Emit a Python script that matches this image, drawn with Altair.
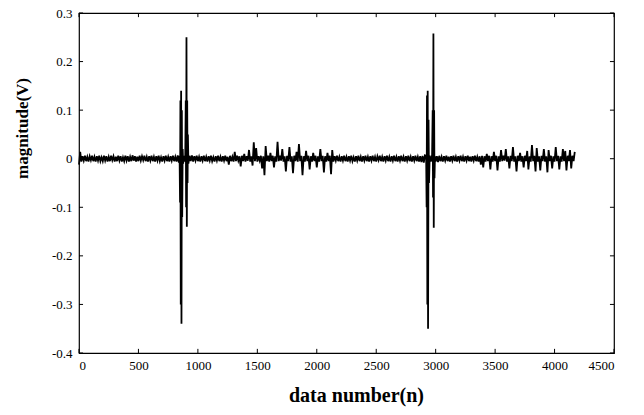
import altair as alt
import pandas as pd

# Base noise samples, one every 10 data numbers starting at n = 0 (rows of 200 n)
noise_step = 10
noise = [
    -0.012, 0.014, -0.006, 0.005, -0.004, 0.006, -0.005, 0.004, -0.006, 0.005, -0.003, 0.006, -0.005, 0.004, -0.006, 0.005, -0.004, 0.006, -0.005, 0.003,
    -0.005, 0.006, -0.004, 0.005, -0.006, 0.004, -0.005, 0.006, -0.003, 0.005, -0.006, 0.004, -0.005, 0.006, -0.004, 0.005, -0.006, 0.003, -0.005, 0.006,
    -0.004, 0.005, -0.006, 0.004, -0.005, 0.007, -0.004, 0.005, -0.006, 0.004, -0.005, 0.006, -0.004, 0.005, -0.003, 0.006, -0.005, 0.004, -0.006, 0.005,
    -0.004, 0.006, -0.005, 0.004, -0.006, 0.005, -0.004, 0.006, -0.005, 0.003, -0.006, 0.005, -0.004, 0.006, -0.005, 0.004, -0.006, 0.005, -0.004, 0.006,
    -0.005, 0.004, -0.006, 0.007, -0.008, 0.008, -0.007, 0.006, -0.008, 0.007, -0.006, 0.008, -0.007, 0.006, -0.005, 0.007, -0.006, 0.005, -0.004, 0.006,
    -0.005, 0.004, -0.006, 0.005, -0.004, 0.006, -0.005, 0.004, -0.006, 0.005, -0.004, 0.006, -0.005, 0.003, -0.006, 0.005, -0.004, 0.006, -0.005, 0.004,
    -0.006, 0.005, -0.004, 0.006, -0.005, 0.004, -0.012, 0.006, -0.005, 0.004, -0.006, 0.014, -0.005, 0.006, -0.004, 0.005, -0.016, 0.006, -0.005, 0.010,
    -0.006, 0.005, -0.004, 0.018, -0.006, 0.005, -0.014, 0.034, -0.005, 0.022, -0.006, 0.005, -0.004, 0.006, -0.020, 0.005, -0.034, 0.026, -0.005, 0.006,
    -0.006, 0.012, -0.005, 0.006, -0.018, 0.005, -0.006, 0.035, -0.005, 0.006, -0.004, 0.020, -0.006, 0.005, -0.026, 0.006, -0.005, 0.024, -0.006, 0.005,
    -0.030, 0.006, -0.005, 0.014, -0.006, 0.030, -0.005, 0.006, -0.034, 0.005, -0.006, 0.016, -0.005, 0.006, -0.022, 0.005, -0.006, 0.012, -0.005, 0.006,
    -0.018, 0.005, -0.006, 0.020, -0.005, 0.006, -0.028, 0.005, -0.006, 0.012, -0.005, 0.006, -0.032, 0.018, -0.006, 0.005, -0.004, 0.006, -0.005, 0.004,
    -0.006, 0.005, -0.004, 0.006, -0.005, 0.004, -0.006, 0.005, -0.004, 0.006, -0.005, 0.003, -0.006, 0.005, -0.004, 0.006, -0.005, 0.004, -0.006, 0.005,
    -0.004, 0.006, -0.005, 0.004, -0.006, 0.005, -0.004, 0.006, -0.005, 0.004, -0.006, 0.005, -0.003, 0.006, -0.005, 0.004, -0.006, 0.005, -0.004, 0.006,
    -0.005, 0.004, -0.006, 0.005, -0.004, 0.006, -0.005, 0.004, -0.006, 0.005, -0.004, 0.006, -0.005, 0.004, -0.006, 0.005, -0.004, 0.006, -0.005, 0.004,
    -0.006, 0.005, -0.004, 0.006, -0.005, 0.004, -0.006, 0.005, -0.007, 0.006, -0.008, 0.007, -0.006, 0.007, -0.008, 0.006, -0.007, 0.008, -0.006, 0.007,
    -0.006, 0.005, -0.007, 0.006, -0.005, 0.004, -0.006, 0.005, -0.004, 0.006, -0.005, 0.004, -0.006, 0.005, -0.004, 0.006, -0.005, 0.004, -0.006, 0.005,
    -0.004, 0.006, -0.005, 0.004, -0.006, 0.005, -0.004, 0.006, -0.005, 0.004, -0.006, 0.005, -0.004, 0.006, -0.005, 0.004, -0.006, 0.005, -0.012, 0.006,
    -0.018, 0.005, -0.006, 0.010, -0.005, 0.006, -0.022, 0.005, -0.006, 0.014, -0.005, 0.006, -0.024, 0.005, -0.006, 0.018, -0.005, 0.006, -0.004, 0.020,
    -0.006, 0.005, -0.020, 0.006, -0.005, 0.024, -0.006, 0.005, -0.026, 0.006, -0.005, 0.012, -0.006, 0.005, -0.018, 0.006, -0.005, 0.016, -0.022, 0.005,
    -0.006, 0.028, -0.005, 0.006, -0.026, 0.022, -0.006, 0.005, -0.024, 0.006, -0.005, 0.020, -0.006, 0.005, -0.028, 0.018, -0.005, 0.006, -0.020, 0.005,
    -0.006, 0.024, -0.005, 0.006, -0.022, 0.005, -0.006, 0.020, -0.005, 0.016, -0.024, 0.006, -0.005, 0.018, -0.020, 0.006, -0.005, 0.014,
]

# First spike burst
spike1_n = [846, 850, 853, 856, 859, 862, 865, 868, 872, 876, 882, 888, 894,
            898, 901, 904, 907, 910, 913, 916, 920]
spike1_v = [0.006, -0.09, 0.12, -0.30, 0.14, -0.34, 0.10, -0.12, 0.02, -0.01,
            0.006, -0.006, 0.008, 0.12, -0.10, 0.25, -0.14, 0.12, -0.05, 0.05, -0.01]

# Second spike burst
spike2_n = [2920, 2924, 2927, 2930, 2933, 2936, 2940, 2944, 2950, 2960, 2970,
            2975, 2978, 2981, 2984, 2987, 2990, 2994]
spike2_v = [0.006, -0.10, 0.13, -0.30, 0.14, -0.35, 0.08, -0.05, 0.006, -0.006,
            0.008, 0.10, -0.08, 0.258, -0.142, 0.10, -0.04, 0.005]

x_ticks = [0, 500, 1000, 1500, 2000, 2500, 3000, 3500, 4000, 4500]
y_ticks = [-0.4, -0.3, -0.2, -0.1, 0, 0.1, 0.2, 0.3]

base = pd.DataFrame({"n": [i * noise_step for i in range(len(noise))], "v": noise})
base = base[~(((base.n >= 845) & (base.n <= 925)) | ((base.n >= 2915) & (base.n <= 2998)))]
sig = pd.concat([
    base,
    pd.DataFrame({"n": spike1_n, "v": spike1_v}),
    pd.DataFrame({"n": spike2_n, "v": spike2_v}),
]).sort_values("n", kind="stable").reset_index(drop=True)
sig["order"] = range(len(sig))

FONT = "Liberation Serif"
xs = alt.Scale(domain=[0, 4500], nice=False, zero=False)
ys = alt.Scale(domain=[-0.4, 0.3], nice=False, zero=False)

xaxis = alt.Axis(
    values=x_ticks, format="d", title="data number(n)", ticks=False,
    domain=False, grid=False, labelFont=FONT, labelFontSize=13,
    labelColor="black", labelPadding=6, titleFont=FONT, titleFontSize=20,
    titleFontWeight="bold", titleColor="black",
    titleX=277, titleY=48, titleBaseline="alphabetic")
yaxis = alt.Axis(
    values=y_ticks, labelExpr="toString(datum.value)", title="magnitude(V)",
    ticks=False, domain=False, grid=False, labelFont=FONT, labelFontSize=13,
    labelColor="black", labelPadding=7, titleFont=FONT, titleFontSize=17,
    titleFontWeight="bold", titleColor="black",
    titleX=-57, titleY=115, titleBaseline="middle")

line = alt.Chart(sig).mark_line(color="black", strokeWidth=1.8).encode(
    x=alt.X("n:Q", scale=xs, axis=xaxis),
    y=alt.Y("v:Q", scale=ys, axis=yaxis),
    order="order:Q",
)

dx = 34.0
dy = 0.0085
xt = pd.DataFrame({"t": x_ticks})
yt = pd.DataFrame({"t": y_ticks})
xt["b1"] = -0.4
xt["b2"] = -0.4 + dy
xt["t1"] = 0.3
xt["t2"] = 0.3 - dy
yt["l1"] = 0.0
yt["l2"] = dx
yt["r1"] = 4500.0
yt["r2"] = 4500 - dx

tb = alt.Chart(xt).mark_rule(color="black", strokeWidth=1).encode(
    x=alt.X("t:Q", scale=xs, axis=xaxis), y=alt.Y("b1:Q", scale=ys, axis=yaxis), y2="b2:Q")
tt = alt.Chart(xt).mark_rule(color="black", strokeWidth=1).encode(
    x=alt.X("t:Q", scale=xs, axis=xaxis), y=alt.Y("t1:Q", scale=ys, axis=yaxis), y2="t2:Q")
tl = alt.Chart(yt).mark_rule(color="black", strokeWidth=1).encode(
    y=alt.Y("t:Q", scale=ys, axis=yaxis), x=alt.X("l1:Q", scale=xs, axis=xaxis), x2="l2:Q")
tr = alt.Chart(yt).mark_rule(color="black", strokeWidth=1).encode(
    y=alt.Y("t:Q", scale=ys, axis=yaxis), x=alt.X("r1:Q", scale=xs, axis=xaxis), x2="r2:Q")

chart = alt.layer(line, tb, tt, tl, tr).properties(
    width=535, height=340,
    autosize=alt.AutoSizeParams(type="none"),
    padding={"left": 79, "top": 13, "right": 30, "bottom": 62},
    background="white",
).configure_view(stroke="black", strokeWidth=1.2)

chart.save("out.html", embed_options={"renderer": "svg", "actions": False})
